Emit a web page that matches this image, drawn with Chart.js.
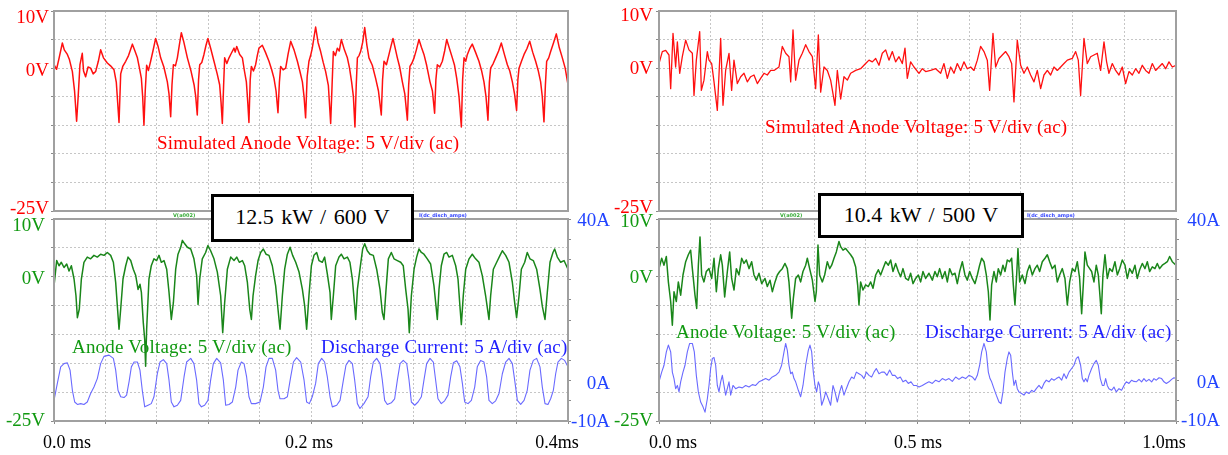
<!DOCTYPE html>
<html><head><meta charset="utf-8">
<script src="https://cdn.jsdelivr.net/npm/chart.js@4/dist/chart.umd.min.js"></script>
<style>
html,body{margin:0;padding:0;background:#fff;width:1228px;height:455px;overflow:hidden;position:relative;font-family:"Liberation Serif","Times New Roman",serif;}
canvas{position:absolute;}
.note{position:absolute;font-size:19px;line-height:19px;white-space:nowrap;letter-spacing:0.2px;}
.box{position:absolute;background:#fff;border:3px solid #000;box-sizing:border-box;font-size:22px;display:flex;align-items:center;justify-content:center;word-spacing:2px;color:#000;padding-bottom:2px;}
.tiny{position:absolute;font-family:"DejaVu Sans",sans-serif;font-size:5px;line-height:5px;font-weight:bold;white-space:nowrap;}
</style></head><body>
<canvas id="tl" width="614" height="226" style="left:0;top:0"></canvas>
<canvas id="tr" width="614" height="226" style="left:614px;top:0"></canvas>
<canvas id="bl" width="614" height="255" style="left:0;top:200px"></canvas>
<canvas id="br" width="614" height="255" style="left:614px;top:200px"></canvas>

<div class="note" style="left:157px;top:133px;color:#ff0000">Simulated Anode Voltage: 5 V/div (ac)</div>
<div class="note" style="left:765px;top:117px;color:#ff0000">Simulated Anode Voltage: 5 V/div (ac)</div>
<div class="note" style="left:72px;top:337px;color:#119911">Anode Voltage: 5 V/div (ac)</div>
<div class="note" style="left:321px;top:337px;color:#1f1fff">Discharge Current: 5 A/div (ac)</div>
<div class="note" style="left:676px;top:322px;color:#119911">Anode Voltage: 5 V/div (ac)</div>
<div class="note" style="left:925px;top:322px;color:#1f1fff">Discharge Current: 5 A/div (ac)</div>

<div class="tiny" style="left:173px;top:213px;color:#33aa33">V(a002)</div>
<div class="tiny" style="left:419px;top:213px;color:#3344ff">I(dc_disch_amps)</div>
<div class="tiny" style="left:780px;top:213px;color:#33aa33">V(a002)</div>
<div class="tiny" style="left:1027px;top:213px;color:#3344ff">I(dc_disch_amps)</div>

<div class="box" style="left:211px;top:194px;width:203px;height:48px">12.5 kW / 600 V</div>
<div class="box" style="left:818px;top:193px;width:206px;height:45px">10.4 kW / 500 V</div>

<script>
// ---- tick labels ----
const xTickValsL = [0, 200, 400];
const xTickTextL = ['0.0 ms', '0.2 ms', '0.4ms'];
const xTickValsR = [0, 500, 1000];
const xTickTextR = ['0.0 ms', '0.5 ms', '1.0ms'];
const vTickVals = [10, 0, -25];
const vTickText = ['10V', '0V', '-25V'];
const aTickVals = [40, 0, -10];
const aTickText = ['40A', '0A', '-10A'];
const boxLabels = ['12.5 kW / 600 V', '10.4 kW / 500 V'];

// ---- series: [time (µs), value] ----
// 12.5 kW: simulated anode voltage (V)
const simAnodeL = [[0,0.6],[2,-0.2],[4,1.8],[6.5,4.4],[8,3.2],[10.4,2.4],[12,1.5],[14.3,-0.6],[16,-4],[17.6,-9.3],[18.8,-5],[20.2,0.6],[22,2.6],[23,-0.5],[24.6,-1.5],[26.5,0.2],[28.5,0],[30.5,-1],[32.4,-0.6],[34.5,1.2],[36.3,3.2],[38.5,1.8],[41.5,0.9],[44,0.4],[46.7,-0.3],[48.5,-2.5],[50.6,-9.5],[51.9,-1],[53.5,0.3],[55.8,1.2],[58,2.2],[61,4.2],[63,3.0],[64.9,1.8],[66.5,0],[68,-1.8],[69,-5],[70,-10],[71,-4],[72.1,0.5],[73.5,-0.4],[75.2,1.2],[77,3.0],[79.1,5.2],[81,3.8],[83,1.8],[85.5,0.2],[88.2,-2.4],[89.5,-4.5],[90.8,-8.5],[91.8,-3],[92.9,0.6],[94.5,0.4],[96,1.8],[97.5,4.0],[99.1,6.2],[101,4.6],[103.8,1.8],[106.5,-0.4],[109,-2.9],[110.3,-5],[111.5,-8.2],[112.5,-2],[113.4,0.6],[115,1.0],[116.7,2.4],[118.3,4.0],[119.8,5.2],[122,3.4],[124.5,1.2],[127,-1],[128.9,-2.9],[130,-6],[131,-9.7],[132,-3],[132.8,1.8],[134.5,0.8],[136.2,1.8],[138,2.6],[140.1,3.5],[141,2.8],[142.2,3.8],[144.5,2.4],[146.6,1.8],[148.2,-0.5],[149.7,-2.4],[150.8,-6],[151.7,-9.5],[152.7,-2],[153.6,0.3],[155.2,-0.5],[156.9,0.6],[158.2,2.2],[159.5,3.5],[162.1,4.0],[164.5,2.8],[167.3,1.2],[169.3,-0.2],[171.2,-1.8],[172.8,-4],[174.3,-7.8],[175.4,-2.5],[176.4,0.3],[178.3,-0.3],[180.3,0],[182.2,2.5],[184.2,4.7],[186.8,3.2],[189.4,1.2],[191.3,-0.5],[193.3,-2.4],[194.6,-5],[195.8,-8.7],[197,-1.5],[198.4,1.2],[199.7,2.2],[201,3.5],[203.6,7.2],[205.5,4.5],[207.5,2.9],[209.5,1.0],[211.4,-0.6],[213.5,-3],[215.3,-9.7],[216.4,-3],[217.4,2.9],[219,2.2],[220.5,3.5],[222,3.0],[223.6,5.0],[226,3.2],[228.3,1.8],[230,0],[231.6,-2.4],[233,-5],[234.2,-10.3],[235.2,-3],[236.1,1.8],[237.4,2.2],[238.6,2.9],[240.2,4.5],[241.8,7.1],[243.5,4.0],[245.1,1.8],[247.7,0.5],[250.3,-1.8],[252.5,-4],[254.7,-8.2],[255.7,-2],[256.8,1.2],[258.7,0.6],[260.7,2.4],[262.2,3.8],[263.8,5.2],[265.5,3.5],[267.2,1.8],[269,0.2],[271.1,-2.4],[273,-4.5],[275,-9.1],[276,-3],[277,0.3],[278.6,0.9],[280.2,1.8],[282,3.2],[284,5.0],[286,3.6],[287.9,2.4],[290,0.5],[292.6,-2.4],[294.5,-4],[296.2,-7.9],[297.2,-2],[298.3,0.6],[300.2,0.2],[302.2,1.2],[304,3.0],[305.6,5.0],[307.8,3.4],[310,1.8],[311.7,0.5],[313.4,-1.8],[315.2,-5],[317,-10.3],[318,-2],[319.1,1.8],[320.4,1.2],[321.7,2.4],[323.5,3.4],[325.5,4.2],[328,2.8],[330.7,1.2],[332.7,-0.4],[334.6,-2.4],[336.2,-5],[337.7,-9.1],[338.8,-2.5],[339.8,0],[341.8,0.8],[343.7,1.8],[346,3.0],[348.1,4.4],[350.5,2.4],[352.8,0.6],[354.7,-0.5],[356.7,-2.4],[358.4,-4.5],[360,-7.4],[361,-2],[361.9,0],[363.8,1.2],[365.8,2.4],[368,3.4],[370.2,4.7],[372.5,2.8],[374.8,1.2],[376.8,-0.4],[378.7,-2.4],[380,-5],[381.3,-9.4],[382.4,-3],[383.4,1.2],[385,1.8],[386.5,2.9],[388.7,4.4],[390.9,6.0],[393.2,3.6],[395.6,1.8],[397.8,0],[400,-2.9]];

// 12.5 kW: measured anode voltage (V)
const anodeL = [[0,-1.6],[2.1,2.8],[3.9,1.9],[5.7,2.5],[7.8,1.6],[9.9,2.2],[11.7,1.0],[13.5,1.9],[15.6,-0.4],[17.1,-3.3],[18.2,-7.1],[19.7,-5.6],[21.3,-0.4],[23.3,2.5],[25.9,3.4],[28.5,3.1],[31.1,3.7],[33.7,3.4],[36.3,3.9],[38.9,3.7],[41.5,4.2],[44.1,3.7],[46.2,2.5],[48,-1.0],[49.3,-5.1],[50.6,-9.1],[51.9,-5.6],[53.7,-0.4],[55.8,1.9],[57.6,3.4],[59.7,2.8],[61.7,1.3],[63.6,0.2],[65.4,-2.2],[66.9,-1.3],[68,-2.7],[69.5,-8.0],[70.6,-10.9],[71.3,-15.5],[72.1,-9.1],[73.9,-0.4],[75.7,1.9],[77.8,3.1],[79.9,2.8],[81.7,3.7],[83.5,2.5],[85.6,2.8],[87.7,1.3],[89.5,-2.7],[91.3,-7.4],[92.9,-4.5],[94.7,1.3],[96.5,3.9],[98.6,5.1],[99.9,6.3],[101.7,5.7],[103.8,5.1],[106.4,4.8],[108.9,3.1],[111,0.2],[112.1,-4.8],[113.4,-0.4],[115.4,3.1],[118,4.2],[119.8,5.4],[121.9,4.5],[124.5,3.1],[127.1,0.8],[129.7,-3.3],[131.3,-9.7],[132.8,-4.5],[134.9,1.3],[137.5,3.4],[140.1,2.8],[142.2,3.4],[144.2,2.5],[146.6,2.8],[148.4,1.9],[150.5,-1.0],[152.3,-5.6],[153.6,-7.4],[154.9,-3.3],[156.9,0.2],[158.8,2.8],[160.8,4.2],[162.9,4.8],[165,3.9],[167.3,3.7],[169.9,1.9],[172.5,-1.6],[174.3,-5.6],[175.9,-9.1],[177.7,-3.3],[179.5,1.3],[181.6,3.9],[183.7,5.1],[185.7,3.7],[188.1,2.5],[190.7,0.8],[193.3,-2.2],[195.1,-5.1],[196.6,-9.1],[198.4,-3.3],[200.3,1.9],[202.3,3.7],[204.4,4.2],[206.2,2.8],[208.8,2.5],[210.6,3.4],[212.7,0.5],[214.8,-2.7],[215.8,-7.4],[217.4,-3.3],[219.2,1.9],[221.8,3.4],[223.6,3.9],[225.7,3.1],[228.3,3.4],[230.3,2.5],[232.2,-0.4],[234,-5.1],[234.8,-7.4],[236.1,-2.2],[238.1,1.3],[240.2,4.8],[241.8,5.7],[243.8,4.5],[245.9,3.9],[248.5,3.7],[251.1,1.3],[253.7,-2.2],[255.5,-6.2],[256.8,-7.4],[258.4,-2.2],[260.2,3.1],[262.5,4.2],[264.6,3.1],[267.2,2.8],[269.8,2.5],[271.8,1.9],[273.7,-2.2],[275.5,-5.6],[276.5,-9.7],[278.1,-3.3],[280.2,1.3],[282.2,3.4],[284,4.8],[285.9,4.2],[287.9,3.9],[290.5,3.1],[293.1,2.2],[295.7,-1.6],[297.3,-5.1],[298.3,-7.4],[299.6,-2.2],[301.4,1.9],[303.5,3.9],[305.6,4.2],[307.4,3.4],[310,3.7],[312.6,1.9],[314.4,-0.4],[315.9,-5.1],[317,-8.3],[318.5,-3.3],[320.4,1.3],[323,3.1],[325.5,3.9],[328.1,3.1],[330.7,2.5],[333.3,0.2],[335.9,-3.3],[338.5,-7.4],[339.8,-3.3],[341.9,1.3],[344.5,2.5],[347.1,3.7],[348.9,4.5],[351.5,3.7],[354.1,2.5],[356.7,-1.0],[358.5,-4.5],[360,-7.1],[361.9,-3.3],[363.7,1.3],[366.3,2.5],[368.3,4.2],[370.4,3.1],[373,2.8],[375.6,1.3],[378.2,-2.2],[380,-5.1],[382.1,-7.4],[383.9,-2.7],[386,2.5],[388.3,4.2],[389.6,4.8],[391.7,3.4],[394.3,2.5],[396.9,2.8],[400,1.3]];

// 12.5 kW: discharge current (A)
const currentL = [[0,-4.9],[2.6,-0.7],[5.2,3.4],[7.8,4.2],[10.4,4.4],[12.5,2.6],[14.3,-2.4],[16.1,-5.3],[18.2,-5.9],[20.8,-5.7],[23.3,-5.9],[25.9,-5.3],[28.5,-3.2],[31.1,-1.6],[33.7,0.5],[36.3,4.2],[38.9,6.0],[42.8,6.3],[46.2,5.5],[48,2.6],[49.8,-2.4],[51.9,-4.0],[54.5,-4.2],[56.5,-3.6],[58.4,-0.3],[60.2,3.4],[62.3,4.6],[64.9,4.6],[66.9,2.6],[68.7,-2.4],[70.6,-6.5],[73.2,-6.1],[75.7,-5.7],[77.8,-4.0],[80.4,1.7],[82.5,4.6],[85.1,5.2],[87.7,4.2],[89.5,0.1],[91.3,-5.3],[93.4,-6.5],[96,-6.1],[98.6,-4.9],[101.2,0.9],[103.2,4.6],[106.4,5.5],[108.9,4.2],[111,0.1],[112.8,-5.7],[114.7,-6.5],[117.2,-6.1],[119.8,-4.9],[121.9,0.1],[124,4.2],[126.6,5.5],[129.7,4.4],[131.8,0.1],[133.6,-6.1],[136.2,-5.9],[138.8,-5.3],[141.4,-1.6],[143.2,2.6],[145.8,4.6],[147.9,4.2],[149.9,0.9],[151.7,-4.0],[153.6,-5.7],[156.9,-5.7],[160.3,-5.3],[162.9,-1.6],[165,3.4],[167.3,5.5],[169.9,5.5],[172.5,2.6],[174.3,-2.4],[175.9,-4.5],[179,-4.5],[181.6,-4.0],[184.2,0.9],[186.3,4.6],[188.8,5.7],[192,4.6],[194.6,0.1],[196.6,-5.3],[198.7,-5.7],[201,-4.0],[203.6,-0.7],[205.7,4.2],[208.3,5.5],[210.6,4.6],[212.7,0.9],[214.8,-4.0],[216.6,-6.5],[220,-6.1],[222.6,-4.9],[225.2,0.1],[227.2,3.8],[229.6,5.0],[232.2,4.2],[234,0.1],[236.1,-5.7],[238.1,-6.9],[241.2,-5.7],[244.4,-4.0],[246.4,0.9],[248.5,4.6],[251.1,5.5],[253.7,4.2],[255.5,0.1],[257.3,-4.9],[259.4,-5.9],[262.5,-5.5],[265.1,-4.5],[267.2,0.1],[269.3,4.2],[271.8,5.0],[274.5,4.2],[276.3,0.1],[278.1,-5.3],[280.7,-6.1],[283.3,-5.3],[285.9,-4.0],[287.9,0.1],[290,4.2],[292.6,5.5],[295.2,4.6],[297,0.1],[298.8,-4.5],[301.4,-5.7],[304,-5.0],[306.6,-3.6],[308.7,0.9],[310.8,4.4],[313.4,4.9],[315.9,3.4],[317.8,-0.7],[319.6,-5.3],[322.2,-5.7],[324.8,-4.9],[327.4,-1.6],[329.4,3.4],[332,5.0],[334.6,4.6],[336.7,0.9],[338.5,-4.9],[341.1,-5.7],[343.7,-5.0],[346.3,-3.2],[348.9,1.7],[351.5,4.6],[354.1,5.5],[356.7,4.2],[358.5,0.1],[360.6,-4.9],[363.2,-5.9],[365.8,-4.9],[368.3,-2.4],[370.4,2.6],[373,5.0],[375.6,5.5],[378.2,3.4],[380,-1.6],[382.1,-5.7],[384.4,-5.9],[386.5,-4.5],[388.6,-2.4],[390.4,1.7],[392.2,4.6],[394.8,5.5],[397.4,5.0],[400,3.4]];

// 10.4 kW: simulated anode voltage (V)
const simAnodeR = [[0,0.8],[6.4,2.9],[12.9,3.1],[19.3,2.3],[22.6,-3.6],[27.1,6.1],[32.2,0.2],[35.5,4.6],[40,-0.9],[45.1,2.0],[51.6,4.9],[58,3.2],[64.5,2.6],[67.7,-4.8],[72.2,1.4],[78.7,6.4],[81.9,-3.9],[87,-2.1],[93.5,2.9],[96.7,1.4],[101.9,0.8],[106.4,-2.4],[112.8,-7.4],[119.3,5.2],[123.8,-6.5],[128.9,-0.4],[135.4,2.6],[140.5,-3.9],[145,1.4],[151.5,-2.7],[158,-1.5],[164.4,-0.9],[170.8,-2.4],[177.3,-1.5],[183.7,-1.2],[190.2,-2.7],[196.6,-1.8],[203.1,-0.9],[209.5,-1.2],[216,-0.4],[222.4,-0.4],[232.1,0.2],[238.5,3.8],[245,2.6],[251.4,2.0],[254.7,-2.4],[259.2,6.7],[264.3,-2.1],[270.8,1.4],[277.2,2.6],[283.7,4.1],[290.1,2.9],[296.6,2.0],[303,-3.6],[308.2,5.8],[312.7,-4.2],[319.1,0.2],[325.6,-0.4],[332,-2.1],[340.4,-6.5],[344.9,-0.4],[351.4,-5.4],[357.8,-1.5],[364.3,-2.1],[370.7,-0.9],[380.4,-0.4],[390,-0.1],[399.7,0.8],[406.2,1.4],[412.6,1.1],[419.1,1.7],[425.5,0.5],[431.9,2.6],[438.4,3.2],[444.8,1.4],[451.3,2.9],[457.7,1.1],[464.2,2.0],[470.6,0.8],[475.8,3.5],[480.3,-1.8],[486.7,1.1],[493.2,0.2],[502.9,-0.9],[509.3,-0.1],[515.8,-0.6],[525.4,-0.4],[535.1,-0.1],[544.8,-0.9],[551.2,0.8],[557.7,-1.8],[564.1,0.2],[570.6,-0.9],[577,0.8],[583.5,-0.4],[589.9,1.1],[596.3,-0.1],[602.8,0.2],[609.2,-0.4],[615.7,1.4],[622.1,3.8],[628.6,2.9],[635,1.4],[639.5,-3.9],[646,6.1],[651.1,0.2],[657.6,1.7],[664,2.3],[670.5,2.9],[676.9,2.0],[682.1,0.8],[686.6,-5.9],[693,4.9],[699.5,0.5],[705.9,-0.9],[712.4,0.2],[718.8,-1.2],[725.3,-2.4],[731.7,-0.4],[738.2,-3.6],[744.6,-1.2],[751.1,-0.4],[757.5,-1.2],[764,0.2],[770.4,-0.4],[776.9,0.2],[783.3,0.8],[789.8,1.4],[799.4,1.7],[805.9,2.9],[811,1.4],[815.5,-4.8],[822,5.2],[828.4,0.8],[834.9,2.0],[841.3,2.3],[847.8,2.6],[854.2,-0.4],[860.7,4.6],[865.8,1.1],[870.3,-0.9],[876.8,0.8],[883.2,-0.4],[889.7,-1.2],[896.1,0.2],[902.6,-2.7],[909,-0.6],[915.5,-1.2],[921.9,-0.1],[928.4,-0.9],[934.8,0.5],[941.3,-0.4],[947.7,-0.9],[954.2,0.8],[960.6,-0.4],[967.1,0.2],[973.5,0.8],[980,-0.1],[986.4,1.1],[992.8,0.2],[1000,0.5]];

// 10.4 kW: measured anode voltage (V)
const anodeR = [[0,1.4],[5.2,3.2],[9.7,2.0],[14.2,3.5],[18.1,-0.9],[22.6,-4.3],[25.8,-8.4],[29,-2.6],[33.5,-4.3],[37.4,-0.9],[41.9,-3.2],[46.4,0.3],[51.6,2.6],[56.7,3.8],[61.2,4.6],[64.5,1.4],[69.6,-3.2],[72.9,-5.5],[76.1,2.0],[79.3,6.9],[82.5,0.3],[87,-0.9],[91.5,0.9],[96.7,1.4],[101.9,-0.3],[106.4,3.2],[110.9,-2.6],[114.8,1.4],[119.3,3.8],[122.5,2.0],[127,-3.5],[132.2,0.9],[136.7,4.3],[140.5,-0.3],[145.1,-2.3],[149.6,1.4],[154.7,0.3],[159.9,3.2],[164.4,2.3],[168.9,2.9],[174.1,1.4],[179.2,2.6],[183.7,0.3],[188.3,-0.6],[193.4,0.6],[198.6,-1.2],[205,-0.3],[209.5,-1.7],[214.7,-0.6],[219.2,-2.6],[224.4,-0.9],[228.9,0.3],[233.4,0.9],[238.5,1.4],[243.7,2.3],[248.2,1.4],[251.4,-0.9],[254.7,-4.9],[256.6,-7.2],[259.8,-3.8],[264.3,-0.3],[269.5,0.3],[274,-0.9],[278.5,0.9],[283.7,2.0],[286.9,3.2],[291.4,1.4],[296.6,-0.6],[301.7,-4.3],[304.3,-2.6],[307.5,5.5],[310.7,0.3],[315.9,-0.9],[320.4,0.3],[325.6,2.6],[330.1,1.4],[334,2.0],[338.5,3.2],[343,4.3],[348.1,6.1],[351.4,5.2],[355.9,4.6],[361,4.9],[366.2,4.3],[370.7,3.8],[375.2,3.2],[380.4,1.7],[384.2,-1.4],[386.8,-4.9],[390,-0.9],[394.6,-2.3],[399.7,-1.4],[404.9,-1.7],[409.4,-0.9],[413.9,-2.0],[419.1,0.3],[424.2,1.2],[428.7,0.3],[433.2,1.4],[438.4,2.6],[443.6,2.0],[448.1,2.9],[452.6,0.9],[457.7,2.3],[462.9,0.9],[467.4,0],[471.9,1.4],[477.1,-0.3],[482.2,-0.6],[486.7,0.6],[491.3,-1.2],[496.4,-0.3],[501.6,0.3],[506.1,-0.9],[510.6,0.9],[515.8,-0.3],[522.2,0.6],[528.7,-0.6],[533.8,0.9],[538.3,0],[542.8,1.4],[548,-0.3],[553.2,0.9],[557.7,-0.9],[562.2,1.4],[567.3,0.3],[572.5,0.6],[577,-1.2],[581.5,0.9],[586.7,2.6],[591.8,0.3],[596.3,-0.6],[600.9,0.9],[606,-0.3],[611.2,-1.2],[615.7,0.3],[620.2,2.0],[624.1,3.2],[628.6,2.6],[633.1,0.3],[637,-2.6],[640.2,-7.5],[643.4,-1.4],[647.9,0.9],[652.4,-0.9],[656.3,1.4],[660.8,0.3],[665.3,2.0],[669.2,0.9],[673.7,2.9],[678.2,2.6],[682.1,3.2],[685.3,-1.4],[688.5,-4.9],[691.8,0.3],[694.3,4.9],[697.6,-0.9],[702.7,0.3],[707.9,-1.2],[712.4,0.9],[716.9,2.0],[722.1,0.3],[727.2,1.4],[731.7,2.0],[736.2,0.9],[741.4,2.6],[746.6,3.2],[751.1,3.8],[755.6,2.6],[760.7,1.4],[765.9,2.0],[770.4,-0.9],[774.9,0.3],[780.1,1.4],[785.2,-0.3],[789.8,-4.9],[794.3,-0.9],[799.4,1.4],[804.6,0.9],[809.1,2.6],[813.6,-0.3],[817.5,-6.4],[820.7,-1.4],[823.9,4.3],[828.4,2.0],[833,1.4],[836.8,0.9],[841.3,-0.9],[845.8,2.0],[849.7,0.3],[852.3,-2.6],[855.5,-6.4],[858.7,0.3],[862.6,3.8],[867.1,-0.3],[871.6,1.4],[876.8,0.9],[881.9,2.6],[886.5,0.3],[891,1.4],[896.1,2.9],[901.3,2.0],[905.8,-0.3],[910.3,1.4],[915.5,0.6],[920.6,2.0],[925.1,-0.3],[929.7,1.2],[934.8,2.3],[940,1.4],[944.5,2.6],[949,0.9],[954.2,1.7],[959.3,1.4],[963.8,2.3],[968.3,1.4],[973.5,2.0],[978.6,2.3],[983.2,2.6],[987.7,3.5],[992.8,2.6],[1000,2.0]];

// 10.4 kW: discharge current (A)
const currentR = [[0,-0.3],[5.2,2.1],[9.7,3.8],[14.2,7.1],[18.1,8.8],[22.6,7.1],[25.8,2.1],[29,0.5],[32.2,-2.0],[35.5,-1.2],[38.7,-2.8],[41.9,-0.3],[46.4,2.1],[50.3,3.8],[54.8,7.1],[59.3,9.2],[64.5,9.2],[68.3,7.1],[72.2,1.3],[76.1,-2.8],[80.6,-5.3],[85.1,-6.5],[89,-7.8],[93.5,-4.5],[96.7,-1.2],[99.9,3.0],[103.2,5.5],[106.4,5.7],[109.6,3.8],[112.8,-1.2],[116,-2.8],[119.3,-0.3],[122.5,1.3],[125.7,-1.2],[128.9,-3.6],[135.4,-0.3],[138.6,-3.6],[143.1,-1.2],[148.3,-2.0],[154.7,-1.6],[161.2,-1.8],[167.6,-1.2],[174.1,-1.6],[180.5,-1.0],[187,-1.2],[193.4,-0.3],[199.9,0.1],[206.3,0.5],[212.8,0.1],[219.2,0.9],[225.6,1.3],[232.1,2.1],[237.2,3.8],[241.8,7.1],[245,9.2],[248.2,7.5],[251.4,3.8],[254.7,1.7],[257.9,2.1],[261.1,0.5],[264.3,-0.3],[269.5,-2.4],[274,-4.0],[278.5,-1.2],[283.7,3.8],[288.8,7.5],[292,8.8],[295.3,7.1],[298.5,2.1],[301.7,-1.2],[304.9,-2.8],[308.2,-0.3],[310.7,-1.2],[314.6,-6.1],[319.1,-4.5],[322.4,-2.8],[327.5,-4.5],[332,-6.1],[336.5,-1.2],[340.4,-2.8],[344.9,-5.3],[349.4,-2.8],[353.3,-1.2],[357.8,-3.6],[362.3,-2.0],[367.5,-0.3],[372.6,0.9],[377.1,0.5],[381.7,2.1],[386.8,1.7],[392,1.3],[396.5,0.5],[401,2.1],[406.2,1.3],[411.3,0.9],[415.8,2.1],[420.3,3.0],[425.5,1.7],[430.7,2.1],[435.8,2.1],[441,1.3],[446.1,2.6],[451.3,1.3],[456.4,1.3],[461.6,0.5],[466.8,0.9],[471.9,-0.3],[477.1,0.1],[482.2,-0.7],[487.4,-0.3],[492.5,-1.2],[497.7,-1.2],[502.9,-1.6],[509.3,-1.2],[515.8,-0.7],[522.2,-0.3],[528.7,-0.7],[535.1,0.1],[541.5,-0.3],[548,0.5],[554.4,0.1],[560.9,0.5],[567.3,-0.2],[573.8,0.9],[580.2,0.3],[586.7,0.9],[593.1,0.5],[599.6,1.3],[606,0.9],[611.2,0.1],[615.7,1.3],[620.2,3.8],[624.1,7.1],[628.6,9.2],[633.1,7.1],[637,2.1],[640.2,0.5],[643.4,-0.3],[647.9,-2.0],[652.4,-3.6],[657.6,-5.3],[661.5,-5.7],[665.3,-2.8],[669.2,2.1],[673.7,5.5],[676.9,7.1],[680.2,6.3],[683.4,2.1],[686.6,-1.2],[689.8,0.1],[693,-2.0],[696.3,-2.8],[701.4,-3.2],[705.9,-3.6],[710.5,-2.8],[715.6,-3.2],[720.8,-2.4],[725.3,-2.8],[729.8,-2.0],[735,-1.2],[740.1,-2.0],[744.6,-0.7],[749.1,0.1],[754.3,-0.3],[759.5,0.5],[764,0.1],[768.5,0.5],[773.6,0.9],[778.8,0.1],[783.3,1.7],[787.8,0.5],[793,2.1],[798.1,3.0],[802.6,3.8],[807.2,5.5],[811,5.9],[815.5,3.8],[818.8,0.5],[822,-0.3],[825.2,0.5],[828.4,-0.3],[831.7,1.3],[836.8,3.0],[841.3,4.2],[845.8,5.0],[849.7,3.8],[853.6,0.5],[857.5,-1.2],[860.7,-1.2],[863.9,0.5],[867.1,-1.2],[870.3,-2.0],[875.5,-2.4],[880,-1.6],[884.5,-2.8],[889.7,-2.0],[894.8,-2.4],[899.4,-1.2],[903.9,-0.3],[909,-0.7],[914.2,0.1],[918.7,-0.2],[923.2,-0.3],[928.4,0.3],[933.5,-0.3],[938,0.5],[942.5,-0.2],[947.7,0.3],[952.9,-0.3],[957.4,0.5],[961.9,0.1],[967.1,0.7],[972.2,0.5],[976.7,-0.3],[981.3,-0.7],[986.4,-0.3],[991.5,0.3],[996.1,0.7],[1000,0.5]];

// ---- styling ----
const RED = '#ff1010', GREEN = '#1a861a', BLUE = '#6a6aff';
const RED_T = '#ff0000', GREEN_T = '#119911', BLUE_T = '#2244ff';
const GRID = '#c6c6c6', FRAME = '#a0a0a0', TICK = '#8a8a8a';
const FONT_Y = '19px "Liberation Serif", "Times New Roman", serif';
const FONT_X = '18px "Liberation Serif", "Times New Roman", serif';

const pts = arr => arr.map(p => ({x: p[0], y: p[1]}));

const frameAndLabels = {
  id: 'frameAndLabels',
  afterDraw(chart, args, opts) {
    const {ctx, chartArea: a} = chart;
    ctx.save();
    ctx.strokeStyle = FRAME; ctx.lineWidth = 2;
    ctx.strokeRect(a.left, a.top, a.right - a.left, a.bottom - a.top);
    (opts.labels || []).forEach(L => {
      const sc = chart.scales[L.scale];
      ctx.font = L.font; ctx.fillStyle = L.color; ctx.textBaseline = 'alphabetic';
      if (sc.isHorizontal()) {
        ctx.textAlign = 'center';
        ctx.fillText(L.text, sc.getPixelForValue(L.value) + L.dx, a.bottom + L.dy);
      } else {
        ctx.textAlign = 'right';
        const x = L.side === 'left' ? a.left - L.pad : a.right + L.pad;
        ctx.fillText(L.text, x, sc.getPixelForValue(L.value) + L.dy + 6.4);
      }
    });
    ctx.restore();
  }
};

function yLabels(scale, vals, texts, color, side, pad, nudges) {
  return vals.map((v, i) => ({scale, value: v, text: texts[i], color, side, pad, dy: nudges[i], font: FONT_Y}));
}
function xLabels(vals, texts, nudges) {
  return vals.map((v, i) => ({scale: 'x', value: v, text: texts[i], color: '#000', dx: nudges[i], dy: 27, font: FONT_X}));
}

function xScale(max, step, bottom) {
  return {
    type: 'linear', min: 0, max: max,
    ticks: {display: false, stepSize: step},
    grid: {color: GRID, lineWidth: 1, drawTicks: bottom, tickLength: 3, tickColor: TICK},
    border: {display: false, dash: [2, 2]},
    afterFit: s => { s.height = bottom ? 34 : 0; }
  };
}
function vScale(width) {
  return {
    type: 'linear', position: 'left', min: -25, max: 10,
    ticks: {display: false, stepSize: 5},
    grid: {color: GRID, lineWidth: 1, drawTicks: true, tickLength: 3, tickColor: TICK},
    border: {display: false, dash: [2, 2]},
    afterFit: s => { s.width = width; }
  };
}
function aScale(width) {
  return {
    type: 'linear', position: 'right', min: -10, max: 40,
    ticks: {display: false, stepSize: 5},
    grid: {drawOnChartArea: false, drawTicks: true, tickLength: 3, tickColor: TICK},
    border: {display: false},
    afterFit: s => { s.width = width; }
  };
}
function line(data, color, width, axis) {
  return {data: pts(data), borderColor: color, borderWidth: width, pointRadius: 0,
          tension: 0, fill: false, yAxisID: axis, borderJoinStyle: 'round'};
}
const common = {
  responsive: false, animation: false, devicePixelRatio: 1,
  events: []
};

// top-left
new Chart(document.getElementById('tl'), {
  type: 'line',
  data: {datasets: [line(simAnodeL, RED, 1.5, 'y')]},
  options: Object.assign({}, common, {
    layout: {padding: {top: 11, right: 46, bottom: 15, left: 0}},
    plugins: {legend: {display: false}, tooltip: {enabled: false},
      frameAndLabels: {labels: yLabels('y', vTickVals, vTickText, RED_T, 'left', 5, [5.5, 1, -3.5])}},
    scales: {x: xScale(400, 40, false), y: vScale(54)}
  }),
  plugins: [frameAndLabels]
});

// top-right
new Chart(document.getElementById('tr'), {
  type: 'line',
  data: {datasets: [line(simAnodeR, RED, 1.3, 'y')]},
  options: Object.assign({}, common, {
    layout: {padding: {top: 11, right: 52, bottom: 15, left: 0}},
    plugins: {legend: {display: false}, tooltip: {enabled: false},
      frameAndLabels: {labels: yLabels('y', vTickVals, vTickText, RED_T, 'left', 6, [3.5, -0.5, -4.5])}},
    scales: {x: xScale(1000, 100, false), y: vScale(45)}
  }),
  plugins: [frameAndLabels]
});

// bottom-left
new Chart(document.getElementById('bl'), {
  type: 'line',
  data: {datasets: [line(anodeL, GREEN, 1.5, 'yV'), line(currentL, BLUE, 1.1, 'yA')]},
  options: Object.assign({}, common, {
    layout: {padding: {top: 19, right: 4, bottom: 0, left: 0}},
    plugins: {legend: {display: false}, tooltip: {enabled: false},
      frameAndLabels: {labels: [].concat(
        yLabels('yV', vTickVals, vTickText, GREEN_T, 'left', 9, [5.5, 1, -1]),
        yLabels('yA', aTickVals, aTickText, BLUE_T, 'right', 42, [1, 2, 0]),
        xLabels(xTickValsL, xTickTextL, [13, -2, -11]))}},
    scales: {x: xScale(400, 40, true), yV: vScale(54), yA: aScale(42)}
  }),
  plugins: [frameAndLabels]
});

// bottom-right
new Chart(document.getElementById('br'), {
  type: 'line',
  data: {datasets: [line(anodeR, GREEN, 1.5, 'yV'), line(currentR, BLUE, 1.1, 'yA')]},
  options: Object.assign({}, common, {
    layout: {padding: {top: 19, right: 8, bottom: 0, left: 0}},
    plugins: {legend: {display: false}, tooltip: {enabled: false},
      frameAndLabels: {labels: [].concat(
        yLabels('yV', vTickVals, vTickText, GREEN_T, 'left', 6, [2, 0, -1]),
        yLabels('yA', aTickVals, aTickText, BLUE_T, 'right', 44, [0.5, 0.5, -1.5]),
        xLabels(xTickValsR, xTickTextR, [14, 0.5, -12]))}},
    scales: {x: xScale(1000, 100, true), yV: vScale(45), yA: aScale(44)}
  }),
  plugins: [frameAndLabels]
});

document.querySelectorAll('.box').forEach((b, i) => { b.textContent = boxLabels[i]; });
</script>
</body></html>
